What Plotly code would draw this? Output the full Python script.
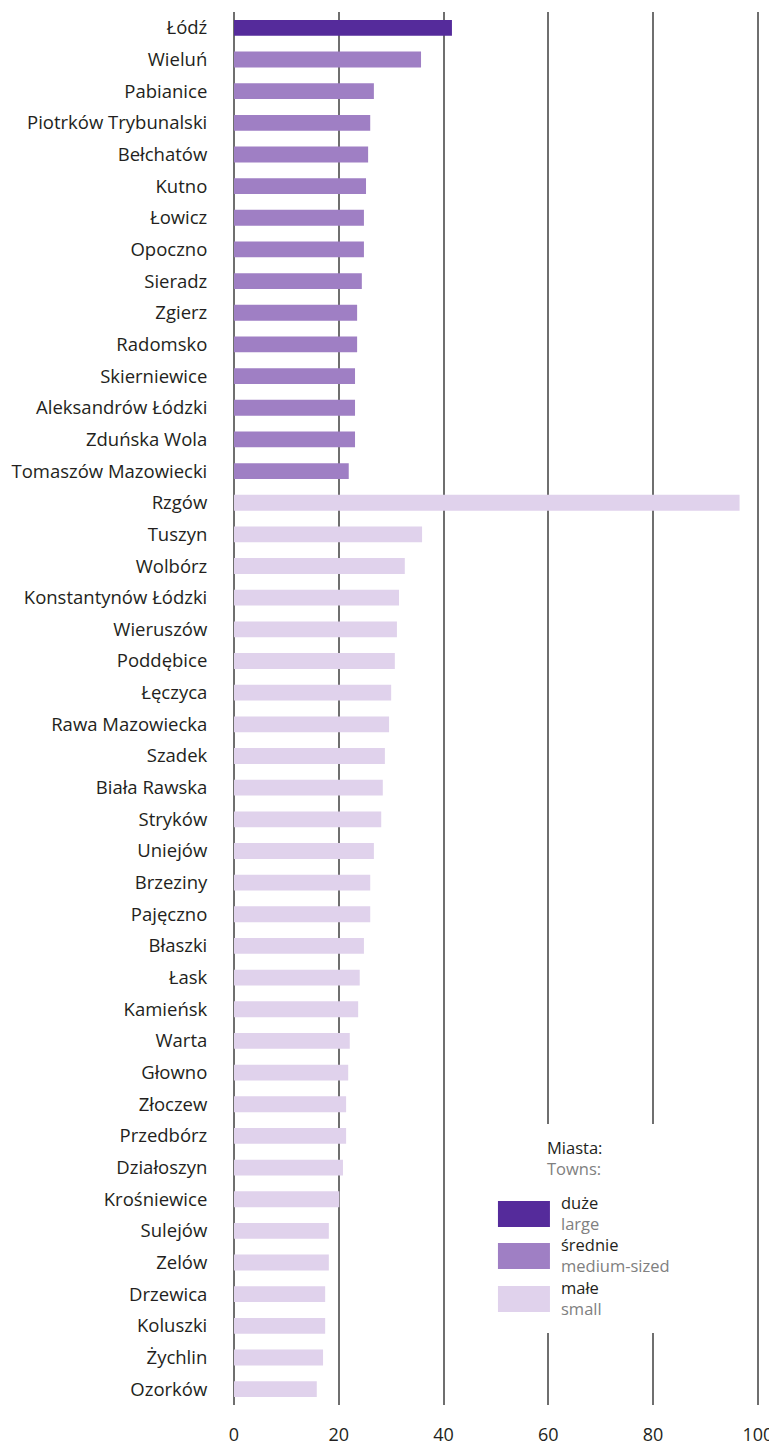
import plotly.graph_objects as go

cities = ["Łódź", "Wieluń", "Pabianice", "Piotrków Trybunalski", "Bełchatów", "Kutno", "Łowicz",
          "Opoczno", "Sieradz", "Zgierz", "Radomsko", "Skierniewice", "Aleksandrów Łódzki",
          "Zduńska Wola", "Tomaszów Mazowiecki", "Rzgów", "Tuszyn", "Wolbórz", "Konstantynów Łódzki",
          "Wieruszów", "Poddębice", "Łęczyca", "Rawa Mazowiecka", "Szadek", "Biała Rawska", "Stryków",
          "Uniejów", "Brzeziny", "Pajęczno", "Błaszki", "Łask", "Kamieńsk", "Warta", "Głowno",
          "Złoczew", "Przedbórz", "Działoszyn", "Krośniewice", "Sulejów", "Zelów", "Drzewica",
          "Koluszki", "Żychlin", "Ozorków"]
values = [41.6, 35.7, 26.7, 26.0, 25.6, 25.2, 24.8, 24.8, 24.4, 23.5, 23.5, 23.1, 23.1, 23.1, 21.9,
          96.5, 35.9, 32.6, 31.5, 31.1, 30.7, 30.0, 29.6, 28.8, 28.4, 28.1, 26.7, 26.0, 26.0, 24.8,
          24.0, 23.7, 22.1, 21.8, 21.4, 21.4, 20.8, 20.1, 18.1, 18.1, 17.4, 17.4, 17.0, 15.8]
size_class = ["large"] + ["medium"] * 14 + ["small"] * 29

classes = ["large", "medium", "small"]
class_pl = ["duże", "średnie", "małe"]
class_en = ["large", "medium-sized", "small"]
class_colors = ["#552b9b", "#9f7fc4", "#e0d2ec"]

legend_title_pl = "Miasta:"
legend_title_en = "Towns:"
x_ticks = [0, 20, 40, 60, 80, 100]
x_max = 100.4

FONT = "Open Sans"
GRID = "#6f6f6f"
TXT = "#231f20"
GRAY = "#808080"

fig = go.Figure()
for cls, col in zip(classes, class_colors):
    ys = [c for c, s in zip(cities, size_class) if s == cls]
    xs = [v for v, s in zip(values, size_class) if s == cls]
    fig.add_trace(go.Bar(x=xs, y=ys, orientation="h", marker=dict(color=col, line=dict(width=0)),
                         width=0.5, showlegend=False, name=cls))

# page body has an 8px margin: the figure starts at (8, 8) in the window
OFF = 8
W, H = 777 - OFF, 1446 - OFF
L = 234 - OFF
T = 12 - OFF
B = H - (1405 - OFF)
PW = 524 * x_max / 100.0
R = W - L - PW
PH = H - T - B


def px(xp):
    return (xp - OFF - L) / PW


def py(yp):
    return (H - B - (yp - OFF)) / PH


def two_line(top, bottom):
    return f"{top}<br><span style='color:{GRAY}'>{bottom}</span>"


LF = 16.5
shapes = [dict(type="rect", xref="paper", yref="paper", x0=px(488), x1=px(705), y0=py(1333), y1=py(1124),
               fillcolor="white", line=dict(width=0), layer="above")]
annotations = [
    dict(text=two_line(legend_title_pl, legend_title_en), x=px(545), y=py(1158), xref="paper",
         yref="paper", xanchor="left", yanchor="middle", align="left", showarrow=False,
         font=dict(family=FONT, size=LF, color=TXT)),
]
sw_top = [1201, 1243, 1286]
for i in range(3):
    t = sw_top[i]
    shapes.append(dict(type="rect", xref="paper", yref="paper", x0=px(498), x1=px(550),
                       y0=py(t + 26), y1=py(t), fillcolor=class_colors[i], line=dict(width=0), layer="above"))
    annotations.append(dict(text=two_line(class_pl[i], class_en[i]), x=px(559), y=py(t + 12),
                            xref="paper", yref="paper", xanchor="left", yanchor="middle", align="left",
                            showarrow=False, font=dict(family=FONT, size=LF, color=TXT)))

fig.update_layout(
    template="none",
    width=W, height=H,
    margin=dict(l=L, r=R, t=T, b=B, pad=0),
    paper_bgcolor="white", plot_bgcolor="white",
    bargap=0.5,
    font=dict(family=FONT, size=18, color=TXT),
    xaxis=dict(range=[0, x_max], tickvals=x_ticks, showgrid=True, gridcolor=GRID, gridwidth=1.5,
               zeroline=True, zerolinecolor=GRID, zerolinewidth=1.5, showline=False,
               ticks="outside", ticklen=13, tickcolor="rgba(0,0,0,0)", automargin=False,
               tickfont=dict(family=FONT, size=18, color=TXT), fixedrange=True),
    yaxis=dict(categoryorder="array", categoryarray=cities, autorange="reversed",
               showgrid=False, zeroline=False, showline=False, automargin=False,
               ticks="outside", ticklen=22, tickcolor="rgba(0,0,0,0)",
               tickfont=dict(family=FONT, size=18.5, color=TXT), fixedrange=True),
    shapes=shapes, annotations=annotations,
)

fig.write_html("out.html")
